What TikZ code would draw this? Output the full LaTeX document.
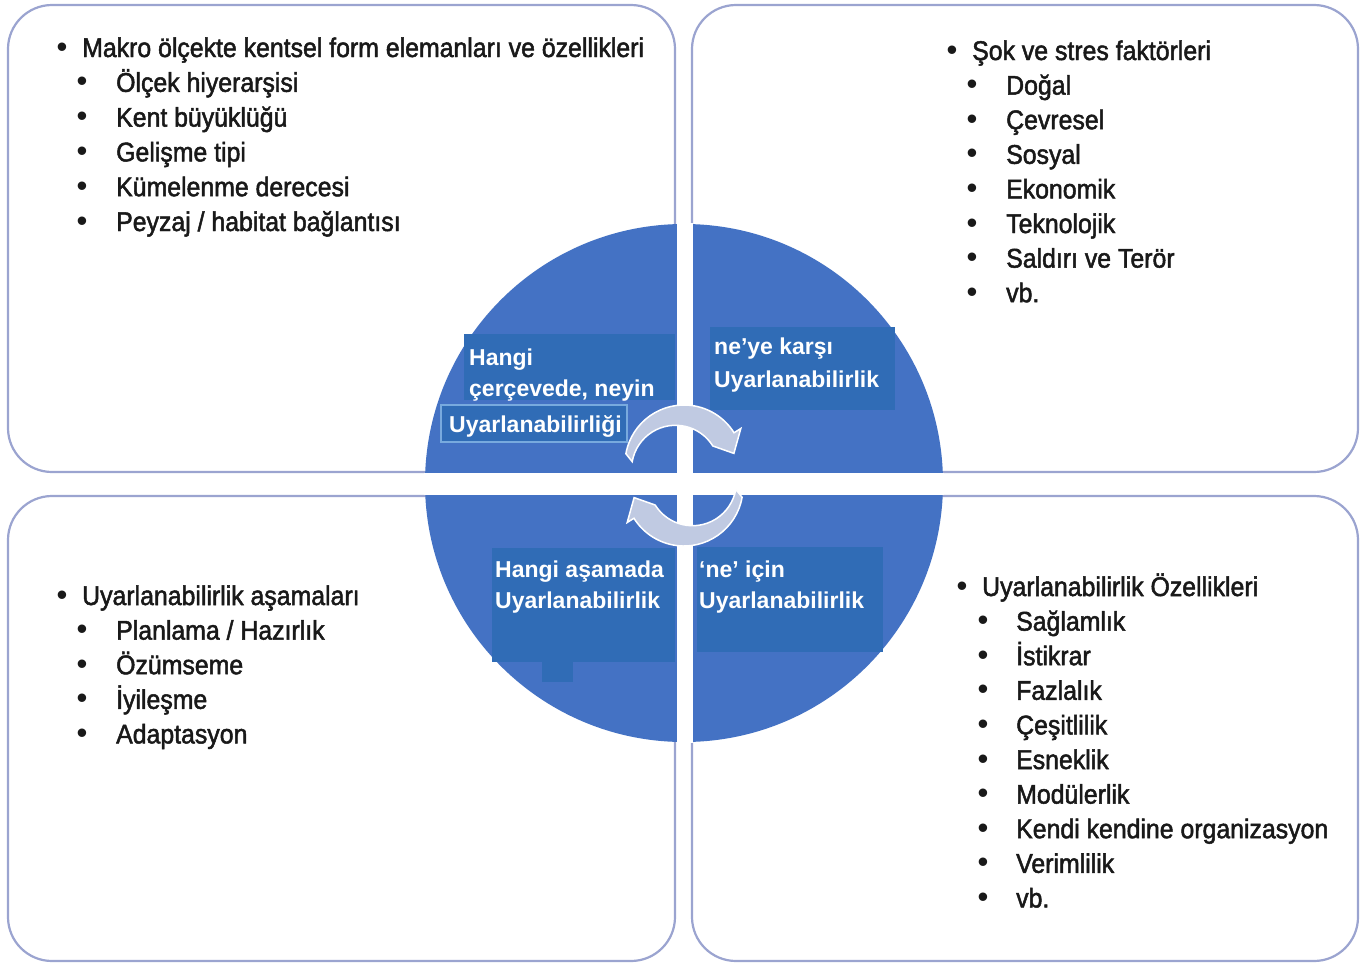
\documentclass[tikz,border=0pt]{standalone}
\usepackage{fontspec}
\setmainfont{Liberation Sans}
\newfontfamily\narrowfont[FakeStretch=0.92, FakeBold=1.8]{Liberation Sans}
\newfontfamily\dotfont{Liberation Sans}
\definecolor{panelline}{RGB}{155,164,208}
\definecolor{discblue}{RGB}{68,114,196}
\definecolor{tagblue}{RGB}{48,108,182}
\definecolor{tagedge}{RGB}{120,170,222}
\definecolor{loopgray}{RGB}{192,202,226}
\definecolor{listtext}{RGB}{25,25,25}
\newcommand\listfont{\narrowfont\fontsize{27}{32}\selectfont}
\newcommand\tagfont{\bfseries\fontsize{23}{28}\selectfont}

\begin{document}
\begin{tikzpicture}[x=1pt, y=-1pt,
    panel/.style={draw=panelline, line width=2.2pt, rounded corners=44pt, fill=white},
    item/.style={anchor=base west, inner sep=0pt, font=\listfont, text=listtext},
    dot/.style={anchor=base, inner sep=0pt, font=\dotfont\fontsize{31}{32}\selectfont, text=listtext},
    tagtext/.style={anchor=base west, inner sep=0pt, font=\tagfont, text=white},
    loop/.style={fill=loopgray, draw=white, line width=1.5pt}]
    \useasboundingbox (0,0) rectangle (1371,964);

    % four panels
    \draw[panel] (8,5) rectangle (675,472);
    \draw[panel] (692,5) rectangle (1358,472);
    \draw[panel] (8,496) rectangle (675,961);
    \draw[panel] (692,496) rectangle (1358,961);

    % central disc, cut in four
    \fill[discblue] (684,483) circle[radius=259];
    \begin{scope}
        \clip (684,483) circle[radius=260];
        \fill[white] (677,200) rectangle (693,760);
        \fill[white] (400,473) rectangle (970,495);
    \end{scope}

    % label backgrounds
    \fill[tagblue] (464,334) rectangle (675,400);
    \draw[fill=tagblue, draw=tagedge, line width=1.5pt] (441,405) rectangle (627,442);
    \fill[tagblue] (710,327) rectangle (895,410);
    \fill[tagblue] (492,548) rectangle (675,662);
    \fill[tagblue] (542,662) rectangle (573,682);
    \fill[tagblue] (697,547) rectangle (883,652);

    % cycle arrows
    \begin{scope}[shift={(684,464)}]
        \filldraw[loop] (190:59) arc[start angle=190, end angle=328, radius=59]
            -- (328:67) -- (348:51) -- (328:34)
            arc[start angle=328, end angle=190, radius=44] -- cycle;
    \end{scope}
    \begin{scope}[shift={(684,487)}]
        \filldraw[loop] (10:59) arc[start angle=10, end angle=148, radius=59]
            -- (148:67) -- (168:51) -- (148:34)
            arc[start angle=148, end angle=10, radius=44] -- cycle;
    \end{scope}

    % disc labels
    \node[tagtext] (hangi1) at (469,365) {Hangi};
    \node[tagtext] (hangi2) at (469,396) {çerçevede, neyin};
    \node[tagtext] (hangi3) at (449,432) {Uyarlanabilirliği};
    \node[tagtext] (karsi1) at (714,354) {ne’ye karşı};
    \node[tagtext] (karsi2) at (714,387) {Uyarlanabilirlik};
    \node[tagtext] (asama1) at (495,577) {Hangi aşamada};
    \node[tagtext] (asama2) at (495,608) {Uyarlanabilirlik};
    \node[tagtext] (icin1) at (699,577) {‘ne’ için};
    \node[tagtext] (icin2) at (699,608) {Uyarlanabilirlik};

    % top left list
    \node[dot] (tlb0) at (62,57) {•};
    \node[item] (tl0) at (82,57) {Makro ölçekte kentsel form elemanları ve özellikleri};
    \foreach \t [count=\i] in {Ölçek hiyerarşisi, Kent büyüklüğü, Gelişme tipi,
        Kümelenme derecesi, Peyzaj / habitat bağlantısı} {
        \node[dot] (tlb\i) at (82,57+34.8*\i) {•};
        \node[item] (tl\i) at (116,57+34.8*\i) {\t};
    }

    % top right list
    \node[dot] (trb0) at (952,60) {•};
    \node[item] (tr0) at (972,60) {Şok ve stres faktörleri};
    \foreach \t [count=\i] in {Doğal, Çevresel, Sosyal, Ekonomik, Teknolojik,
        Saldırı ve Terör, vb.} {
        \node[dot] (trb\i) at (972,60+34.6*\i) {•};
        \node[item] (tr\i) at (1006,60+34.6*\i) {\t};
    }

    % bottom left list
    \node[dot] (blb0) at (62,605) {•};
    \node[item] (bl0) at (82,605) {Uyarlanabilirlik aşamaları};
    \foreach \t [count=\i] in {Planlama / Hazırlık, Özümseme, İyileşme, Adaptasyon} {
        \node[dot] (blb\i) at (82,605+34.6*\i) {•};
        \node[item] (bl\i) at (116,605+34.6*\i) {\t};
    }

    % bottom right list
    \node[dot] (brb0) at (962,596) {•};
    \node[item] (br0) at (982,596) {Uyarlanabilirlik Özellikleri};
    \foreach \t [count=\i] in {Sağlamlık, İstikrar, Fazlalık, Çeşitlilik, Esneklik,
        Modülerlik, Kendi kendine organizasyon, Verimlilik, vb.} {
        \node[dot] (brb\i) at (983,596+34.6*\i) {•};
        \node[item] (br\i) at (1016,596+34.6*\i) {\t};
    }
\end{tikzpicture}
\end{document}
